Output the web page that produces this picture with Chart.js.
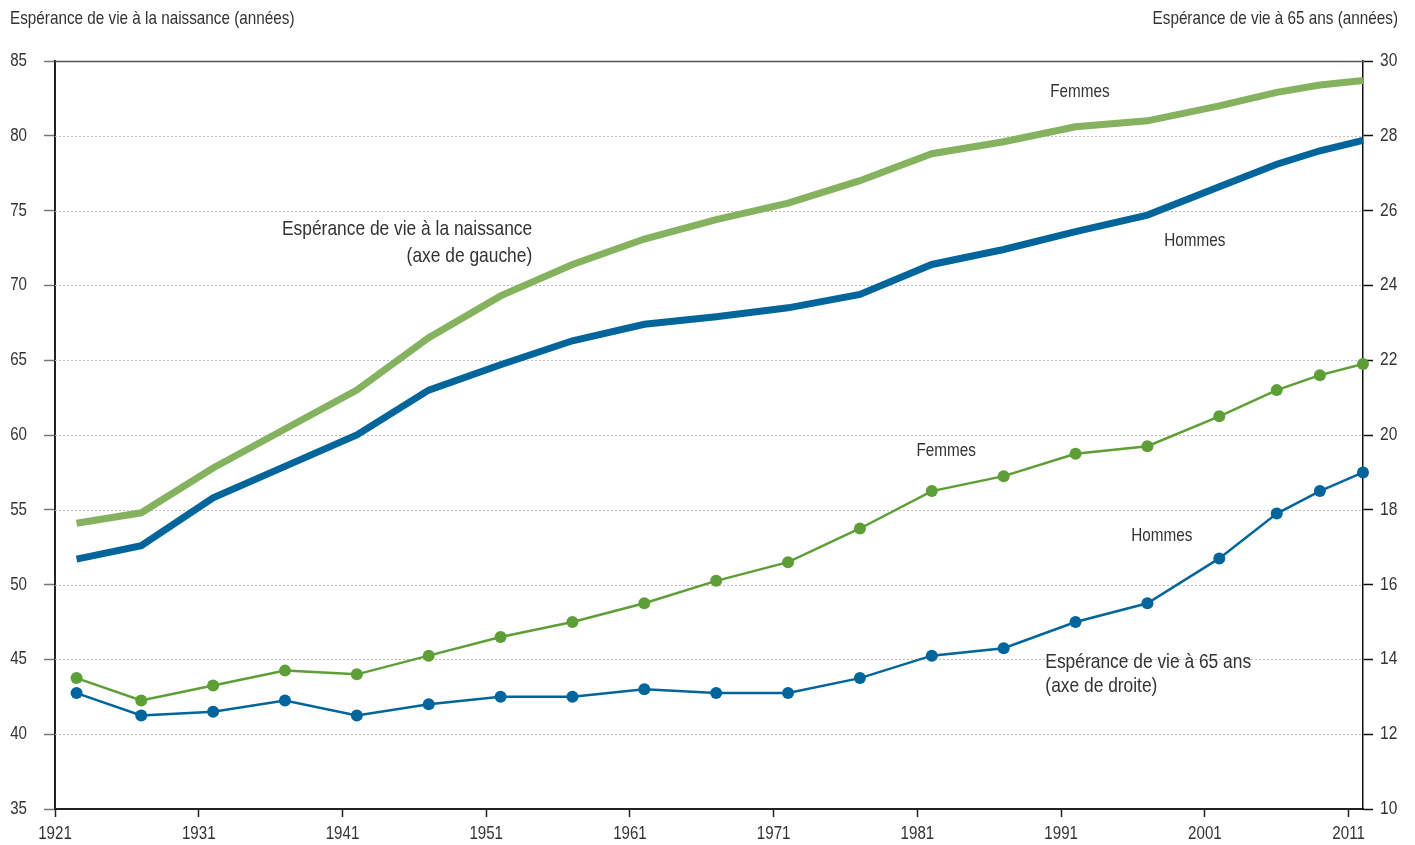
<!DOCTYPE html>
<html>
<head>
<meta charset="utf-8">
<script src="https://cdn.jsdelivr.net/npm/chart.js@4.4.1/dist/chart.umd.min.js"></script>
<style>
  html, body { margin: 0; padding: 0; background: #fff; }
  #wrap { width: 1415px; height: 845px; }
</style>
</head>
<body>
<div id="wrap"><canvas id="c" width="1415" height="845"></canvas></div>
<script>
// ---- Data ----
const years = [1922.5, 1927, 1932, 1937, 1942, 1947, 1952, 1957, 1962, 1967, 1972, 1977, 1982, 1987, 1992, 1997, 2002, 2006, 2009, 2012];
const birthWomen = [54.1, 54.8, 57.8, 60.4, 63.0, 66.5, 69.3, 71.4, 73.1, 74.4, 75.5, 77.0, 78.8, 79.6, 80.6, 81.0, 82.0, 82.9, 83.4, 83.7];
const birthMen   = [51.7, 52.6, 55.8, 57.9, 60.0, 63.0, 64.7, 66.3, 67.4, 67.9, 68.5, 69.4, 71.4, 72.4, 73.6, 74.7, 76.6, 78.1, 79.0, 79.7];
const at65Women  = [13.5, 12.9, 13.3, 13.7, 13.6, 14.1, 14.6, 15.0, 15.5, 16.1, 16.6, 17.5, 18.5, 18.9, 19.5, 19.7, 20.5, 21.2, 21.6, 21.9];
const at65Men    = [13.1, 12.5, 12.6, 12.9, 12.5, 12.8, 13.0, 13.0, 13.2, 13.1, 13.1, 13.5, 14.1, 14.3, 15.0, 15.5, 16.7, 17.9, 18.5, 19.0];
const xTicks = [1921, 1931, 1941, 1951, 1961, 1971, 1981, 1991, 2001, 2011];
const leftTitle = "Espérance de vie à la naissance (années)";
const rightTitle = "Espérance de vie à 65 ans (années)";
// annotation texts, anchored in data units: [text, year, value, axis, align, size]
const notes = [
  ["Femmes", 1992.3, 82.9, "y", "center", 18.2],
  ["Hommes", 2000.3, 73.0, "y", "center", 18.2],
  ["Espérance de vie à la naissance", 1954.2, 73.75, "y", "right", 20.7],
  ["(axe de gauche)", 1954.2, 71.95, "y", "right", 20.7],
  ["Femmes", 1983.0, 19.58, "y1", "center", 18.2],
  ["Hommes", 1998.0, 17.30, "y1", "center", 18.2],
  ["Espérance de vie à 65 ans", 1989.9, 13.91, "y1", "left", 20.7],
  ["(axe de droite)", 1989.9, 13.27, "y1", "left", 20.7]
];

const FONT = "'Liberation Sans', Arial, sans-serif";
const SX = 0.84; // horizontal condensing of the text
const TXT = '#333';
const BLUE = '#00659a';
const GREEN_THICK = '#84b25f';
const GREEN_THIN = '#5d9e37';

const pts = arr => arr.map((v, i) => ({ x: years[i], y: v }));

function drawText(ctx, txt, x, y, size, align) {
  ctx.save();
  ctx.translate(x, y);
  ctx.scale(SX, 1);
  ctx.font = size + 'px ' + FONT;
  ctx.textAlign = align;
  ctx.textBaseline = 'middle';
  ctx.fillStyle = TXT;
  ctx.fillText(txt, 0, 0);
  ctx.restore();
}

const gridPlugin = {
  id: 'gridPlugin',
  beforeDatasetsDraw(chart) {
    const { ctx, chartArea, scales } = chart;
    const y = scales.y;
    ctx.save();
    y.ticks.forEach(t => {
      if (t.value <= y.min) return;
      const py = Math.round(y.getPixelForValue(t.value)) + 0.5;
      ctx.beginPath();
      if (t.value >= y.max) {
        ctx.setLineDash([]);
        ctx.strokeStyle = '#555';
        ctx.lineWidth = 1.5;
      } else {
        ctx.setLineDash([2, 2]);
        ctx.strokeStyle = '#bdbdbd';
        ctx.lineWidth = 1;
      }
      ctx.moveTo(chartArea.left, py);
      ctx.lineTo(chartArea.right, py);
      ctx.stroke();
    });
    ctx.restore();
  },
  afterDraw(chart) {
    const { ctx, scales, chartArea } = chart;
    // axis titles
    drawText(ctx, leftTitle, 10, 19, 18.2, 'left');
    drawText(ctx, rightTitle, 1398, 19, 18.2, 'right');
    // tick labels
    scales.y.ticks.forEach(t => drawText(ctx, String(t.value), chartArea.left - 28, scales.y.getPixelForValue(t.value), 18, 'right'));
    scales.y1.ticks.forEach(t => drawText(ctx, String(t.value), chartArea.right + 17, scales.y1.getPixelForValue(t.value), 18.5, 'left'));
    scales.x.ticks.forEach(t => drawText(ctx, String(t.value), scales.x.getPixelForValue(t.value), chartArea.bottom + 25, 18, 'center'));
    // annotations
    notes.forEach(([txt, xv, yv, ax, al, sz]) => {
      drawText(ctx, txt, scales.x.getPixelForValue(xv), scales[ax].getPixelForValue(yv), sz, al);
    });
  }
};

new Chart(document.getElementById('c'), {
  type: 'line',
  data: {
    datasets: [
      { label: 'Naissance Femmes', data: pts(birthWomen), yAxisID: 'y', borderColor: GREEN_THICK, borderWidth: 7, pointRadius: 0, tension: 0, clip: false },
      { label: 'Naissance Hommes', data: pts(birthMen), yAxisID: 'y', borderColor: BLUE, borderWidth: 7, pointRadius: 0, tension: 0, clip: false },
      { label: '65 ans Femmes', data: pts(at65Women), yAxisID: 'y1', borderColor: GREEN_THIN, backgroundColor: GREEN_THIN, borderWidth: 2.5, pointRadius: 6, pointBorderWidth: 0, tension: 0, clip: false },
      { label: '65 ans Hommes', data: pts(at65Men), yAxisID: 'y1', borderColor: BLUE, backgroundColor: BLUE, borderWidth: 2.5, pointRadius: 6, pointBorderWidth: 0, tension: 0, clip: false }
    ]
  },
  options: {
    responsive: false,
    animation: false,
    devicePixelRatio: 1,
    layout: { padding: { top: 61, left: 0, right: 0, bottom: 0 } },
    plugins: { legend: { display: false }, tooltip: { enabled: false } },
    scales: {
      x: {
        type: 'linear', min: 1921, max: 2012,
        afterBuildTicks: s => { s.ticks = xTicks.map(v => ({ value: v })); },
        afterFit: s => { s.height = 36; },
        ticks: { display: false },
        grid: { drawOnChartArea: false, drawTicks: true, tickLength: 8, tickColor: '#222', tickWidth: 1.5 },
        border: { color: '#222', width: 2 }
      },
      y: {
        position: 'left', min: 35, max: 85,
        afterFit: s => { s.width = 55; },
        ticks: { stepSize: 5, display: false },
        grid: { drawOnChartArea: false, drawTicks: true, tickLength: 11, tickColor: '#777', tickWidth: 1.5 },
        border: { color: '#222', width: 2 }
      },
      y1: {
        position: 'right', min: 10, max: 30,
        afterFit: s => { s.width = 52; },
        ticks: { stepSize: 2, display: false },
        grid: { drawOnChartArea: false, drawTicks: true, tickLength: 10, tickColor: '#111', tickWidth: 1.5 },
        border: { color: '#111', width: 1.5 }
      }
    }
  },
  plugins: [gridPlugin]
});
</script>
</body>
</html>
